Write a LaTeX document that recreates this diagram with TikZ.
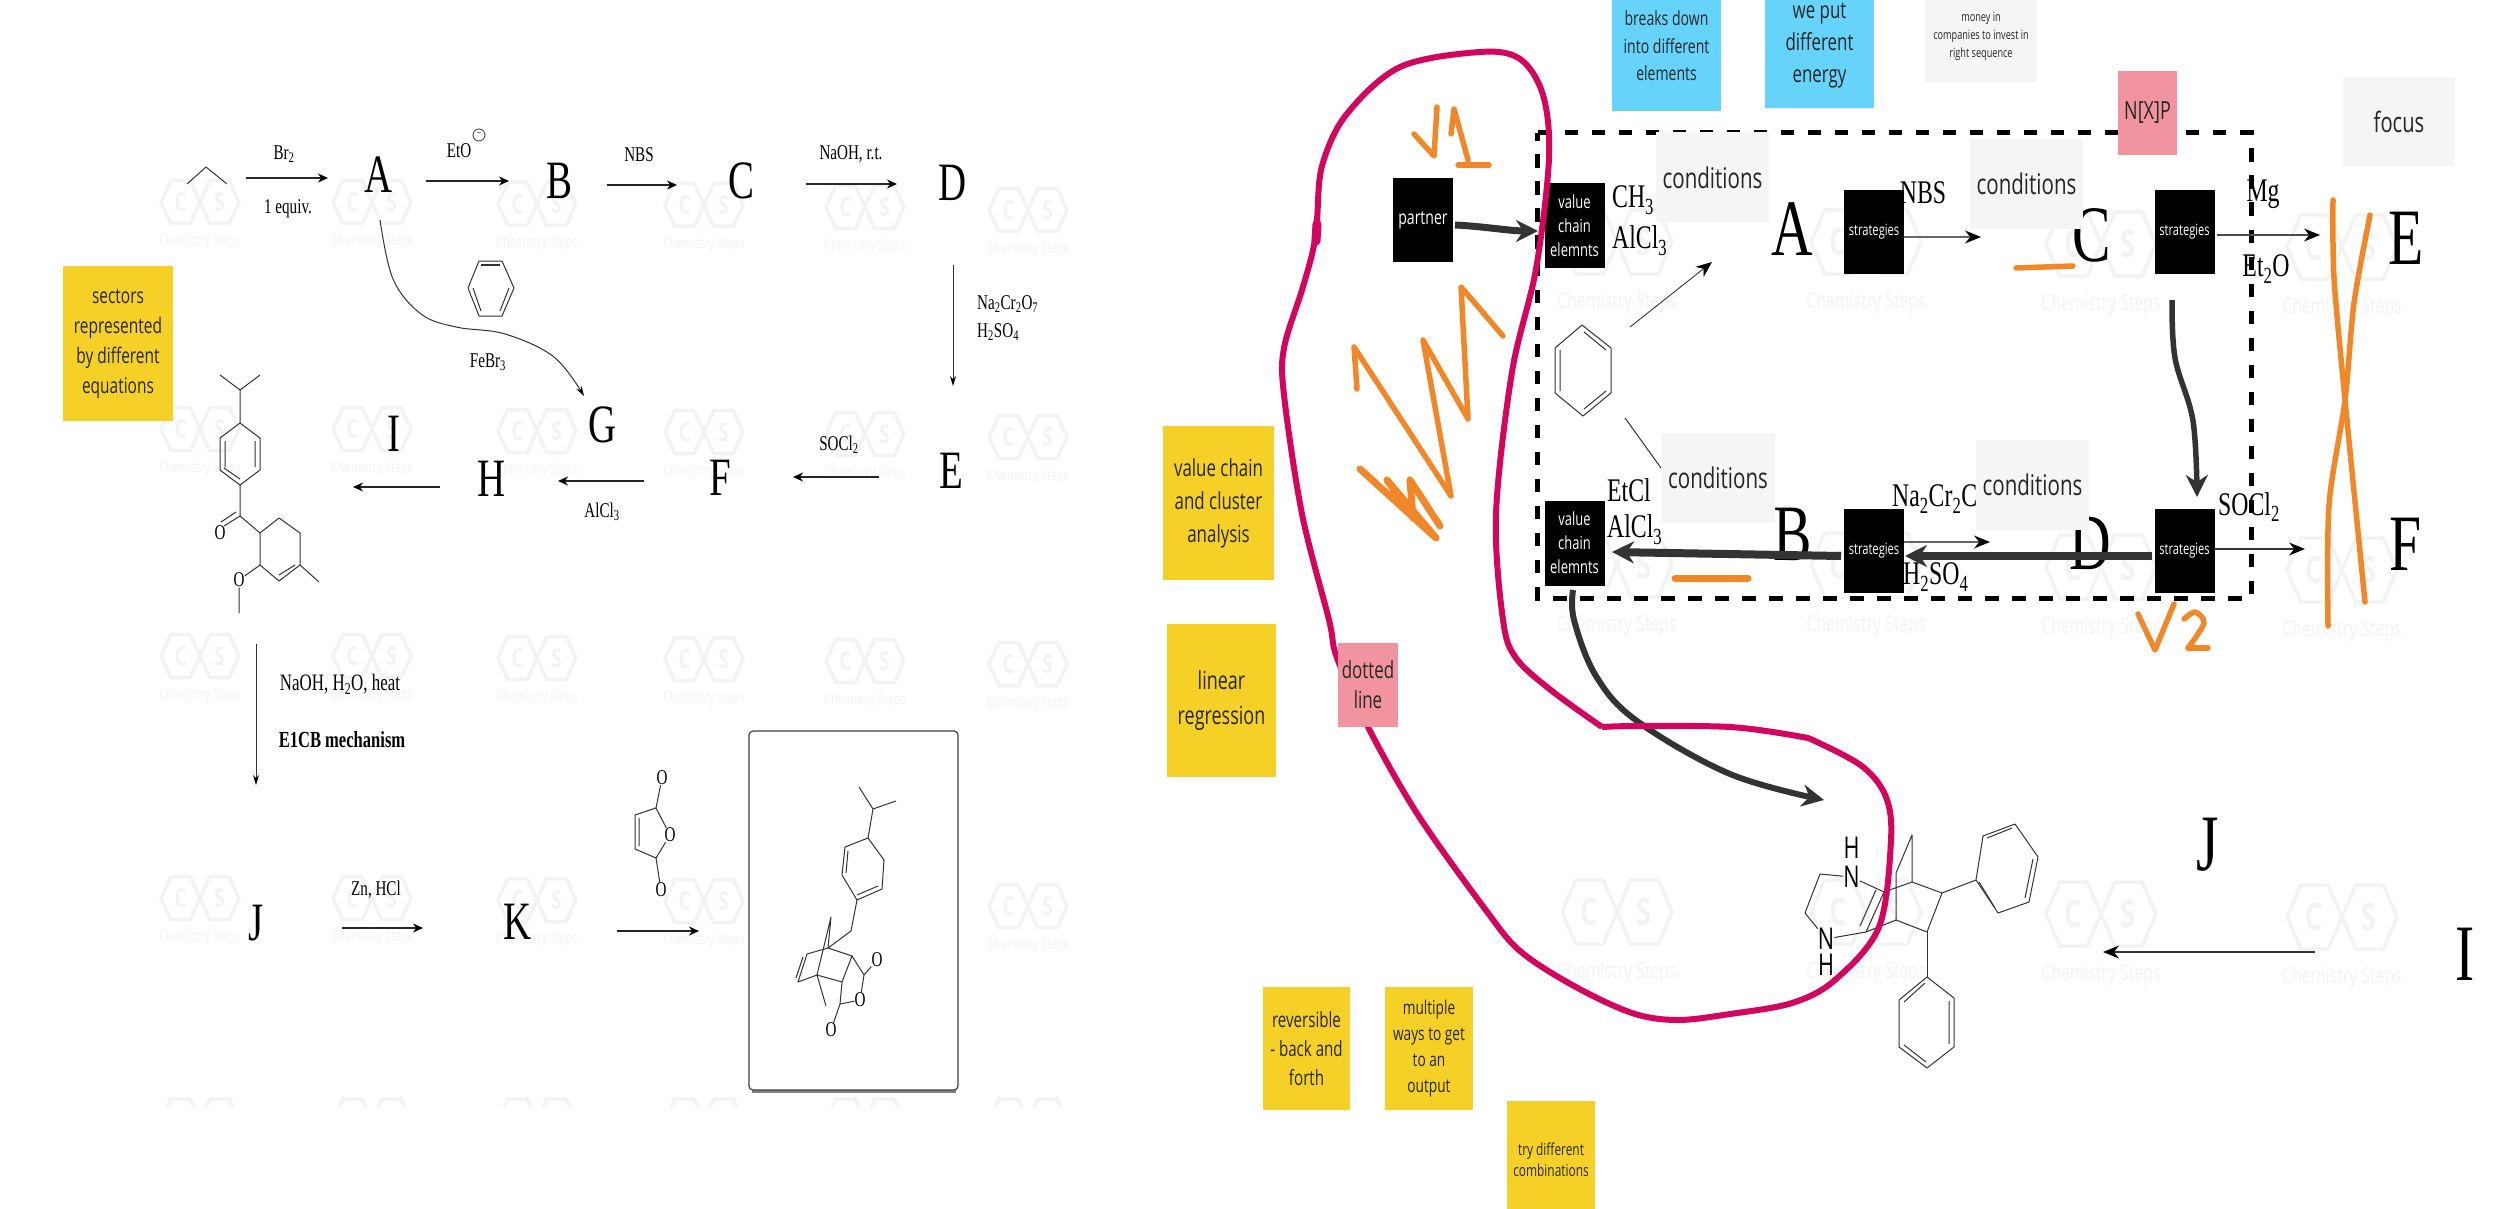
\documentclass[tikz,border=0pt]{standalone}
\usepackage{fontspec}
\usetikzlibrary{arrows.meta}
\newfontfamily\chem[FakeStretch=.72]{Liberation Serif}
\newfontfamily\stk[FakeStretch=.72]{Open Sans}
\newcommand\fs[2]{\fontsize{#1}{#2}\selectfont}
\definecolor{yel}{HTML}{F5D128}
\definecolor{blu}{HTML}{66D4FA}
\definecolor{pnk}{HTML}{F2949F}
\definecolor{gry}{HTML}{F3F5F6}
\definecolor{org}{HTML}{F0882A}
\definecolor{mag}{HTML}{D2055F}
\definecolor{drk}{HTML}{333333}
\definecolor{wmk}{HTML}{F3F3F3}
\tikzset{
  big/.style={inner sep=0,font=\chem\fs{54}{54}},
  bigr/.style={inner sep=0,font=\chem\fs{80}{80}},
  lab/.style={inner sep=0,font=\chem\fs{21}{21}},
  labr/.style={inner sep=0,font=\chem\fs{33}{33}},
  atomn/.style={inner sep=0,font=\stk\fs{30}{30}},
  atomo/.style={inner sep=0,font=\chem\fs{21}{21}},
  thin arr/.style={draw=black!85,line width=1.3pt,-{Stealth[length=10pt,width=9pt,black]}},
  right arr/.style={draw=black!80,line width=1.6pt,-{Stealth[length=16pt,width=13pt,black]}},
  hair arr/.style={draw=black!80,line width=1pt,-{Stealth[length=10pt,width=6pt,black]}},
  thick arr/.style={draw=drk,line width=7pt,-{Stealth[length=22pt,width=22pt]}},
  bond/.style={draw=black!80,line width=1pt,line join=round},
  ink/.style={draw=org,line width=5.5pt,line cap=round,line join=round},
  note/.style={inner sep=0,align=center,text=black!85},
  yellownote/.style={note,fill=yel},
  bluenote/.style={note,fill=blu},
  pinknote/.style={note,fill=pnk},
  greynote/.style={note,fill=gry},
  cond/.style={greynote,minimum width=113pt,minimum height=90pt,font=\stk\fs{28.5}{28.5}},
  blackbox/.style={inner sep=0,fill=black,text=white,align=center,minimum width=60pt,minimum height=84pt},
}
\newcommand\conn[4]{\coordinate (#2s) at (#3);\coordinate (#2e) at (#4);\draw[#1] (#2s) -- (#2e);}
\newcommand\wm[7]{%
  \begin{scope}[shift={(#1,#2)},xscale=#3,yscale=#4]
    \draw[wmk,line width=3.5pt,line join=round] (-1,0)--(-.75,-.5)--(-.25,-.5)--(0,0)--(-.25,.5)--(-.75,.5)--cycle;
    \draw[wmk,line width=3.5pt,line join=round] (1,0)--(.75,-.5)--(.25,-.5)--(0,0)--(.25,.5)--(.75,.5)--cycle;
    \node[text=wmk,inner sep=0,font=\stk\bfseries\fs{#7}{#7}] (wmC#1x#2) at (-.5,0) {C};
    \node[text=wmk,inner sep=0,font=\stk\bfseries\fs{#7}{#7}] (wmS#1x#2) at (.5,0) {S};
  \end{scope}
  \node[text=wmk,inner sep=0,font=\stk\fs{#6}{#6}] (wm#1x#2) at (#1,#2+#5) {Chemistry Steps};}
\newcommand\wmL[2]{\wm{#1}{#2}{39}{43}{40}{15}{26}}
\newcommand\wmR[2]{\wm{#1}{#2}{55}{64}{61}{22}{38}}
\begin{document}
\begin{tikzpicture}[x=1pt,y=-1pt]
\useasboundingbox (0,0) rectangle (2500,1209);
\clip (0,0) rectangle (2500,1209);
\fill[white] (0,0) rectangle (2500,1209);
% watermarks
\foreach \x/\d in {200/0,372/0,537/2,704/3,865/5,1028/8}{
  \foreach \y in {202,429,656,898}{
    \pgfmathtruncatemacro\yy{\y+\d}
    \wmL{\x}{\yy}
  }
}
\begin{scope}
  \clip (150,1085) rectangle (1100,1106);
  \foreach \x in {200,372,537,704,865,1028}{
    \draw[wmk,line width=3.5pt] (\x-39,1121)--(\x-29,1099)--(\x-10,1099)--(\x,1121)--(\x+10,1099)--(\x+29,1099)--(\x+39,1121);
  }
\end{scope}
\foreach \x/\d in {1617/0,1866/0,2101/2,2342/5}{
  \foreach \y in {242,565,912}{
    \pgfmathtruncatemacro\yy{\y+\d}
    \wmR{\x}{\yy}
  }
}
% ---------- left panel
\node[big] (lA) at (379,175) {A};
\node[big] (lB) at (559,181) {B};
\node[big] (lC) at (741,181) {C};
\node[big] (lD) at (953,183) {D};
\node[big] (lE) at (951,471) {E};
\node[big] (lF) at (720,478) {F};
\node[big] (lG) at (603,425) {G};
\node[big] (lH) at (492,479) {H};
\node[big] (lI) at (394,434) {I};
\node[big] (lJ) at (256,923) {J};
\node[big] (lK) at (518,922) {K};
\node[lab] (tBr) at (284,154) {Br\textsubscript{2}};
\node[lab] (tEq) at (288,209) {1 equiv.};
\node[lab] (tEt) at (459,151) {EtO};
\node[draw=black!80,line width=.8pt,circle,inner sep=0,minimum size=12pt,font=\chem\fs{11}{11}] (tMinus) at (479,135) {−};
\node[lab] (tNBS) at (639,155) {NBS};
\node[lab] (tNa) at (851,154) {NaOH, r.t.};
\node[lab,anchor=west] (tCr) at (977,304) {Na\textsubscript{2}Cr\textsubscript{2}O\textsubscript{7}};
\node[lab,anchor=west] (tHS) at (977,332) {H\textsubscript{2}SO\textsubscript{4}};
\node[lab] (tSO) at (839,445) {SOCl\textsubscript{2}};
\node[lab] (tAl) at (602,512) {AlCl\textsubscript{3}};
\node[lab] (tFe) at (488,362) {FeBr\textsubscript{3}};
\node[lab,font=\chem\fs{23.5}{23.5}] (tNH) at (340,684) {NaOH, H\textsubscript{2}O, heat};
\node[lab,font=\chem\bfseries\fs{23}{23}] (tE1) at (342,740) {E1CB mechanism};
\node[lab] (tZn) at (376,890) {Zn, HCl};
\conn{thin arr}{a1}{246,178}{328,178}
\conn{thin arr}{a2}{426,181}{509,181}
\conn{thin arr}{a3}{607,185}{677,185}
\conn{thin arr}{a4}{806,184}{897,184}
\conn{hair arr}{a5}{953,265}{953,386}
\conn{thin arr}{a6}{879,477}{793,477}
\conn{thin arr,line width=2pt}{a7}{644,481}{558,481}
\conn{thin arr}{a8}{440,487}{353,487}
\conn{hair arr}{a9}{256,644}{256,785}
\conn{thin arr}{a10}{342,928}{423,928}
\conn{thin arr,line width=2.4pt}{a11}{617,931}{699,931}
\coordinate (ags) at (380,220);\coordinate (age) at (584,396);
\draw[hair arr] plot[smooth,tension=.6] coordinates {(ags) (393,279) (421,314) (456,327) (505,334) (554,357) (age)};
% propane
\draw[bond] (187,184)--(206,167)--(227,184);
% benzene, left
\draw[bond] (479,261)--(502,261)--(514,288)--(502,316)--(479,316)--(468,288)--cycle;
\draw[bond,line width=1.6pt] (481,265)--(500,265);
\draw[bond] (509,288)--(500,311) (473,288)--(481,311);
% molecule I
\draw[bond] (220,375)--(240,390)--(260,375) (240,390)--(240,423);
\draw[bond] (240,423)--(260,438)--(260,470)--(240,485)--(220,470)--(220,438)--cycle;
\draw[bond] (255,441)--(255,467) (225,441)--(225,467) (240,479)--(224,468);
\draw[bond] (240,485)--(240,516)--(260,533);
\draw[bond] (260,533)--(279,518)--(300,533)--(300,565)--(279,581)--(260,565)--cycle;
\draw[bond] (295,565)--(279,575) (300,565)--(319,582);
\draw[bond] (240,516)--(224,526) (236,512)--(221,522);
\node[atomo] (m1O) at (220,533) {O};
\node[atomo] (m1P) at (239,580) {O};
\draw[bond] (260,565)--(m1P) (m1P)--(239,613);
% maleic anhydride
\node[atomo] (m2a) at (662,778) {O};
\node[atomo] (m2b) at (670,835) {O};
\node[atomo] (m2c) at (661,890) {O};
\draw[bond] (m2a)--(656,808)--(635,815)--(635,849)--(656,858)--(m2c) (656,808)--(m2b)--(656,858) (639,818)--(639,846);
% product box
\draw[gray,line width=3pt] (752,1091)--(956,1091);
\node[draw=black!75,line width=1.2pt,fill=white,rounded corners=4pt,minimum width=209pt,minimum height=359pt,inner sep=0] (prod) at (853.5,910.5) {};
\node[atomo] (p1) at (877,960) {O};
\node[atomo] (p2) at (860,1000) {O};
\node[atomo] (p3) at (831,1030) {O};
\draw[bond] (859,787)--(873,809)--(896,801) (873,809)--(868,838);
\draw[bond] (868,838)--(845,847)--(842,875)--(857,900)--(882,889)--(884,860)--cycle;
\draw[bond] (848,851)--(846,873) (857,895)--(878,886);
\draw[bond] (857,900)--(851,931)--(828,948)--(852,956)--(842,982)--(817,975)--(798,982)--(807,954)--(828,948)--(831,917)--(817,975)--(826,1006);
\draw[bond] (803,957)--(796,978);
\draw[bond] (852,956)--(864,975)--(p1) (864,975)--(p2)--(840,1004)--(842,982) (840,1004)--(p3);
% ---------- right panel
\draw[black,line width=5pt,dash pattern=on 13.5pt off 13.5pt] (1537.5,133)--(2251,133)--(2251,598)--(1537.5,598)--cycle;
\node[labr,anchor=west] (rCH) at (1612,200) {CH\textsubscript{3}};
\node[labr,anchor=west] (rAl) at (1612,241) {AlCl\textsubscript{3}};
\node[labr,anchor=west] (rEt) at (1607,490) {EtCl};
\node[labr,anchor=west] (rAm) at (1607,530) {AlCl\textsubscript{3}};
\node[labr,anchor=west] (rNa) at (1892,499) {Na\textsubscript{2}Cr\textsubscript{2}C};
\node[labr,anchor=west] (rHS) at (1903,577) {H\textsubscript{2}SO\textsubscript{4}};
\node[labr] (rNB) at (1923,193) {NBS};
\node[labr] (rMg) at (2263,194) {Mg};
\node[labr] (rEO) at (2266,269) {Et\textsubscript{2}O};
\node[labr] (rSO) at (2249,507) {SOCl\textsubscript{2}};
\node[bigr] (rA) at (1792,229) {A};
\node[bigr] (rB) at (1793,534) {B};
\node[bigr] (rC) at (2092,235) {C};
\node[bigr] (rD) at (2090,543) {D};
\node[bigr] (rE) at (2406,238) {E};
\node[bigr] (rF) at (2405,544) {F};
\node[bigr] (rJ) at (2208,845) {J};
\node[bigr] (rI) at (2465,954) {I};
\node[cond] (c1) at (1712.5,177.5) {conditions};
\node[cond] (c2) at (2026.5,184) {conditions};
\node[cond] (c3) at (1718,478) {conditions};
\node[cond] (c4) at (2032.5,484.5) {conditions};
\node[bluenote,minimum width=109pt,minimum height=130pt,font=\stk\fs{19.5}{27.5}] (n1) at (1666.5,46) {breaks down\\into different\\elements};
\node[bluenote,minimum width=109pt,minimum height=124pt,font=\stk\fs{23.5}{32}] (n2) at (1819.5,46) {we put\\different\\energy};
\node[greynote,minimum width=112pt,minimum height=92pt,font=\stk\fs{12.7}{18}] (n3) at (1981,36) {money in\\companies to invest in\\right sequence};
\node[pinknote,minimum width=59pt,minimum height=84pt,font=\stk\fs{25}{25}] (n4) at (2147.5,113) {N[X]P};
\node[greynote,minimum width=112pt,minimum height=89pt,font=\stk\fs{28}{28}] (n5) at (2399,121.5) {focus};
% black boxes
\node[blackbox,font=\stk\fs{19.5}{19.5}] (partner) at (1423,220) {partner};
\node[blackbox,minimum height=85pt,font=\stk\fs{18}{24}] (v1) at (1574.5,225.5) {value\\chain\\elemnts};
\node[blackbox,minimum height=85pt,font=\stk\fs{18}{24}] (v2) at (1574.5,543) {value\\chain\\elemnts};
\node[blackbox,font=\stk\fs{15.5}{15.5}] (s1) at (1874,232) {strategies};
\node[blackbox,font=\stk\fs{15.5}{15.5}] (s2) at (2184.5,232) {strategies};
\node[blackbox,font=\stk\fs{15.5}{15.5}] (s3) at (1874,550.5) {strategies};
\node[blackbox,font=\stk\fs{15.5}{15.5}] (s4) at (2184.5,550.5) {strategies};
% benzene, right
\draw[bond] (1582,325)--(1611,348)--(1611,393)--(1583,416)--(1555,393)--(1555,348)--cycle;
\draw[bond] (1584,332)--(1606,350) (1584,409)--(1606,391) (1560,350)--(1560,391);
\coordinate (bzu) at (1630,327);\coordinate (bzue) at (1712,262);
\draw[right arr,line width=.9pt] (bzu)--(bzue);
\coordinate (bzd) at (1625,418);\coordinate (bzde) at (1661,468);
\draw[bond] (bzd)--(bzde);
% right thin arrows
\conn{right arr,draw=black!60,line width=2pt}{b1}{1904,237}{1981,237}
\conn{right arr,draw=black!70}{b2}{2217,235}{2320,235}
\conn{right arr,draw=black!60,line width=2pt}{b3}{1904,542}{1990,542}
\conn{right arr}{b4}{2214,549}{2305,549}
\conn{right arr}{b5}{2315,952}{2103,952}
% molecule bottom right
\node[atomn] (mH1) at (1851.5,848) {H};
\node[atomn] (mN1) at (1851.5,877) {N};
\node[atomn] (mN2) at (1826,939) {N};
\node[atomn] (mH2) at (1826,965) {H};
\draw[bond] (mN1)--(1820,874)--(1805,913)--(mN2)--(1866,932)--(1884,892)--(mN1);
\draw[bond] (1860,926)--(1876,890);
\draw[bond] (1884,892)--(1912,882)--(1942,893)--(1927,932)--(1896,920)--(1896,873)--(1912,835)--(1912,882) (1896,920)--(1866,932);
\draw[bond] (1942,893)--(1976,880);
\draw[bond] (1976,880)--(1983,836)--(2015,824)--(2038,857)--(2029,902)--(1998,913)--cycle;
\draw[bond] (1987,838)--(2012,828) (2033,859)--(2025,898) (1995,908)--(1979,882);
\draw[bond] (1927,932)--(1927,977);
\draw[bond] (1927,977)--(1954,998)--(1954,1047)--(1927,1068)--(1899,1047)--(1899,1000)--cycle;
\draw[bond] (1949,1001)--(1949,1044) (1926,1062)--(1904,1045) (1904,1002)--(1925,983);
% thick arrows
\coordinate (t1s) at (1455,225);\coordinate (t1e) at (1538,231);
\draw[thick arr] (t1s)..controls (1480,226) and (1510,231)..(t1e);
\coordinate (t2s) at (2152,556);\coordinate (t2e) at (1905,556);
\draw[thick arr,line width=8pt] (t2s)--(t2e);
\coordinate (t3s) at (1841,556);\coordinate (t3e) at (1612,552);
\draw[thick arr,line width=8pt] (t3s)--(t3e);
\coordinate (t4s) at (2172,300);\coordinate (t4e) at (2197,497);
\draw[thick arr,line width=5.5pt] plot[smooth,tension=.6] coordinates {(t4s) (2175,358) (2193,421) (t4e)};
\coordinate (t5s) at (1573,590);\coordinate (t5e) at (1824,800);
\draw[thick arr,line width=6pt] plot[smooth,tension=.6] coordinates {(t5s) (1574,620) (1596,676) (1637,721) (1730,774) (t5e)};
% pink loop
\draw[mag,line width=6pt,line join=round] plot[smooth,tension=.55] coordinates {(1602,727) (1552,691) (1516,658) (1503,620) (1496,514) (1512,372) (1536,269) (1549,158) (1543,95) (1520,59) (1480,52) (1400,67) (1346,115) (1322,166) (1317,219) (1313,250) (1302,290) (1284,348) (1284,395) (1302,514) (1329,620) (1337,658) (1369,729) (1418,815) (1485,909) (1520,951) (1574,986) (1632,1013) (1677,1020) (1730,1014) (1792,1003) (1835,980) (1879,927) (1891,840) (1886,797) (1863,767) (1817,742) (1797,736) (1730,727) (1637,726) (1602,727)};
\draw[mag,line width=9pt,line cap=round] (1317,224)--(1316,241);
% orange ink
\draw[ink] (1414,134)--(1434,156)--(1437,107);
\draw[ink] (1451,134)--(1454,109)--(1468,160);
\draw[ink] (1458,165)--(1489,165);
\draw[ink] (1357,389)--(1354,347)--(1451,496)--(1423,340)--(1468,419)--(1461,287)--(1503,336);
\draw[ink,line width=7pt] (1360,469)--(1436,538)--(1387,480)--(1413,518)--(1410,480)--(1440,526);
\draw[ink] (2016,268)--(2073,266);
\draw[ink,line width=7pt] (1675,578)--(1748,578);
\draw[ink] plot[smooth,tension=.5] coordinates {(2333,200) (2334,278) (2345,400) (2365,602)};
\draw[ink] plot[smooth,tension=.5] coordinates {(2370,215) (2354,303) (2345,400) (2329,505) (2328,626)};
\draw[ink] (2138,614)--(2155,650)--(2174,604);
\draw[ink] plot[smooth,tension=.5] coordinates {(2184,619) (2195,612) (2204,623) (2188,648)};
\draw[ink] (2188,648)--(2208,648);
% left-side stickies
\node[yellownote,minimum width=110pt,minimum height=155pt,font=\stk\fs{21.5}{30}] (y0) at (118,343.5) {sectors\\represented\\by different\\equations};
\node[yellownote,minimum width=111pt,minimum height=154pt,font=\stk\fs{23.5}{33}] (y1) at (1218.5,503) {value chain\\and cluster\\analysis};
\node[yellownote,minimum width=109pt,minimum height=153pt,font=\stk\fs{25}{35}] (y2) at (1221.5,700) {linear\\regression};
\node[pinknote,minimum width=60pt,minimum height=84pt,font=\stk\fs{23.5}{30}] (y3) at (1368,685) {dotted\\line};
\node[yellownote,minimum width=87pt,minimum height=123pt,font=\stk\fs{21}{29}] (y4) at (1306.5,1048.5) {reversible\\- back and\\forth};
\node[yellownote,minimum width=88pt,minimum height=123pt,font=\stk\fs{19}{26}] (y5) at (1429,1048.5) {multiple\\ways to get\\to an\\output};
\node[yellownote,minimum width=88pt,minimum height=118pt,font=\stk\fs{16.5}{21}] (y6) at (1551,1160) {try different\\combinations};
\end{tikzpicture}
\end{document}
